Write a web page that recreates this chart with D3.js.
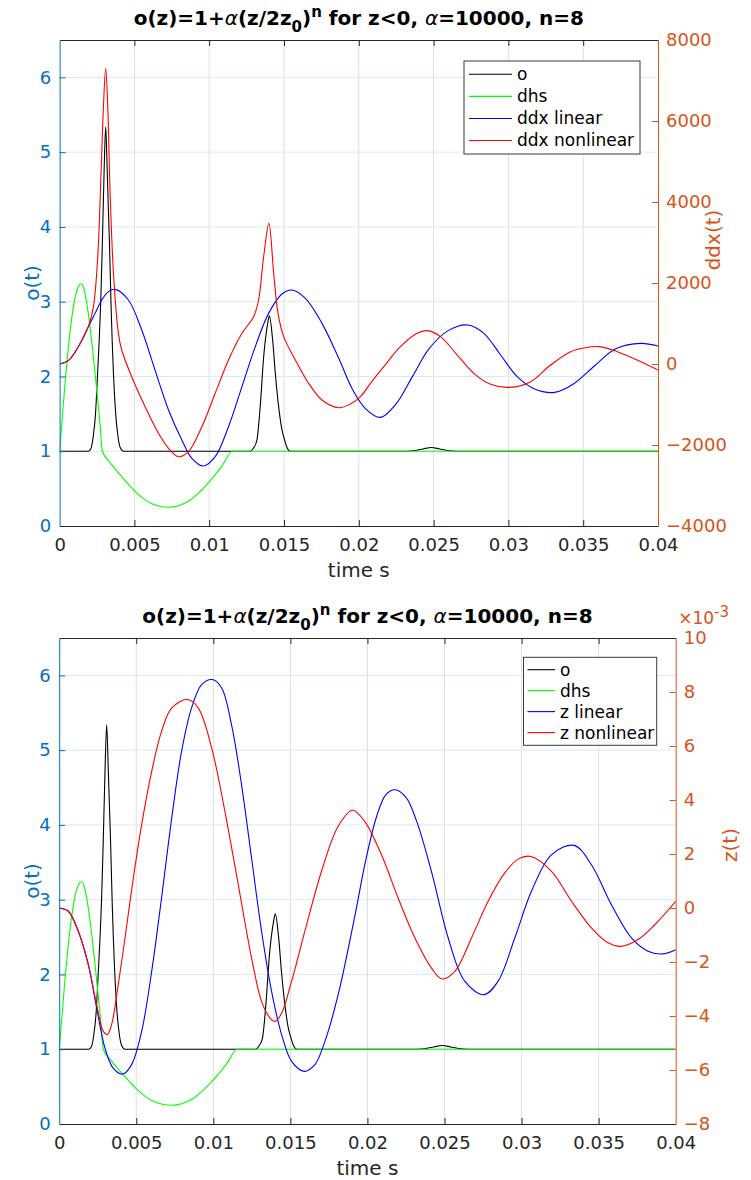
<!DOCTYPE html>
<html>
<head>
<meta charset="utf-8">
<script src="https://cdn.jsdelivr.net/npm/d3@7"></script>
<style>
  body { margin: 0; background: #fff; }
  svg { display: block; }
  text { font-family: "DejaVu Sans", sans-serif; }
</style>
</head>
<body>
<svg id="chart" width="751" height="1180"></svg>
<script>
// ---- shared time axis (seconds) ----
const timeTicks = [0, 0.005, 0.01, 0.015, 0.02, 0.025, 0.03, 0.035, 0.04];
const oTicks = [0, 1, 2, 3, 4, 5, 6];

// ---- series: [time in ms, value] ----
const oSeries = [
  [0, 1], [1.92, 1], [2.1, 1.04], [2.25, 1.2], [2.4, 1.5], [2.53, 2.0], [2.65, 2.5], [2.75, 3.0],
  [2.86, 3.8], [2.97, 4.7], [3.08, 5.34], [3.19, 4.7], [3.33, 3.8], [3.44, 2.95], [3.52, 2.45],
  [3.6, 2.04], [3.75, 1.5], [3.9, 1.2], [4.05, 1.05], [4.27, 1],
  [12.74, 1], [12.95, 1.04], [13.19, 1.15], [13.41, 1.6], [13.64, 2.26], [13.91, 2.71], [14.02, 2.81],
  [14.24, 2.49], [14.42, 2.04], [14.64, 1.6], [14.85, 1.3], [15.04, 1.15], [15.2, 1.05], [15.42, 1],
  [23.2, 1], [23.8, 1.01], [24.3, 1.03], [24.85, 1.05], [25.4, 1.03], [25.9, 1.01], [26.6, 1], [40, 1]
];
const dhsSeries = [
  [0, 1], [0.36, 1.9], [0.7, 2.6], [1.03, 3.05], [1.25, 3.2], [1.43, 3.24], [1.62, 3.18], [1.92, 2.84],
  [2.26, 2.26], [2.48, 1.82], [2.7, 1.37], [2.86, 1], [3.4, 0.84], [4.15, 0.66], [5.27, 0.42],
  [6.39, 0.28], [7.28, 0.25], [8.61, 0.33], [9.73, 0.53], [10.85, 0.8], [11.56, 1], [40, 1]
];
const ddxLinear = [
  [0, 0], [0.58, 82], [1.25, 428], [1.92, 922], [2.37, 1250], [2.82, 1580], [3.26, 1786], [3.71, 1843],
  [4.6, 1580], [5.49, 839], [6.38, -150], [7.28, -1136], [8.17, -1876], [8.84, -2329], [9.62, -2519],
  [10.4, -2289], [11.29, -1548], [12.19, -560], [13.08, 428], [13.97, 1250], [14.86, 1728], [15.53, 1827],
  [16.43, 1621], [17.54, 1003], [18.66, 140], [19.6, -640], [20.44, -1100], [21.45, -1317], [22.5, -980],
  [23.6, -300], [24.7, 380], [26.0, 830], [27.29, 963], [28.36, 758], [29.48, 222], [30.59, -314],
  [31.71, -610], [33.09, -700], [34.4, -480], [35.8, -30], [37.2, 380], [38.85, 510], [40, 444]
];
const ddxNonlinear = [
  [0, 0], [0.58, 82], [1.25, 428], [1.92, 922], [2.26, 1414], [2.55, 2649], [2.77, 4708], [2.93, 6353],
  [3.08, 7300], [3.22, 6353], [3.37, 4296], [3.6, 2239], [3.93, 758], [4.15, 346], [4.82, -314],
  [5.72, -1055], [6.61, -1711], [7.28, -2081], [7.95, -2289], [8.61, -2165], [9.51, -1548], [10.4, -724],
  [11.29, 99], [12.19, 758], [12.97, 1168], [13.3, 1580], [13.64, 2649], [13.99, 3473], [14.31, 2239],
  [14.6, 1250], [14.98, 676], [15.76, 99], [16.65, -478], [17.54, -890], [18.66, -1080], [19.44, -988],
  [20.11, -807], [20.78, -478], [21.67, -66], [22.78, 428], [23.9, 758], [24.57, 824], [25.46, 676],
  [26.58, 222], [27.69, -230], [28.81, -502], [30.1, -576], [31.49, -436], [32.82, -25], [34.16, 304],
  [35.05, 395], [36.06, 428], [37.28, 304], [38.85, 57], [40, -148]
];
// z values in units of 1e-3
const zLinear = [
  [0, 0], [0.59, -0.12], [1.24, -0.86], [1.89, -2.1], [2.43, -3.7], [2.97, -5.19], [3.5, -5.93],
  [4.12, -6.15], [4.7, -5.8], [5.35, -4.57], [6.0, -2.35], [6.64, 0.37], [7.3, 3.33], [7.94, 5.8],
  [8.59, 7.41], [9.24, 8.27], [9.93, 8.46], [10.54, 8.15], [11.18, 6.79], [11.83, 4.57], [12.48, 1.85],
  [13.13, -0.86], [13.78, -3.09], [14.43, -4.69], [15.08, -5.68], [15.9, -6.05], [16.59, -5.8],
  [17.24, -4.94], [18.1, -3.21], [19.18, -0.3], [19.9, 1.8], [20.6, 3.4], [21.2, 4.2], [21.78, 4.38],
  [22.5, 4.1], [23.2, 3.2], [24.15, 1.36], [25.24, -1.11], [26.31, -2.71], [27.57, -3.21], [28.48, -2.71],
  [29.56, -1.11], [30.64, 0.62], [31.94, 1.97], [33.41, 2.32], [34.53, 1.6], [35.83, 0.12],
  [37.13, -1.11], [38.2, -1.6], [39.18, -1.7], [40, -1.55]
];
const zNonlinear = [
  [0, 0], [0.59, -0.12], [1.24, -0.86], [1.89, -2.1], [2.43, -3.58], [2.86, -4.57], [3.12, -4.69],
  [3.4, -4.32], [3.83, -2.84], [4.27, -1.11], [4.81, 1.11], [5.35, 3.09], [6.0, 5.06], [6.64, 6.54],
  [7.3, 7.41], [8.31, 7.72], [9.02, 7.41], [9.89, 5.93], [10.75, 3.58], [11.62, 0.86], [12.48, -1.85],
  [13.13, -3.46], [13.67, -4.07], [14.0, -4.2], [14.43, -3.9], [15.08, -2.71], [15.94, -0.86],
  [17.02, 1.36], [18.1, 3.03], [19.03, 3.62], [19.83, 3.2], [20.91, 1.97], [21.99, 0.37], [23.08, -1.11],
  [24.15, -2.22], [24.84, -2.63], [25.67, -2.35], [26.75, -1.11], [27.83, 0.25], [28.91, 1.3],
  [29.8, 1.82], [30.6, 1.91], [31.94, 1.36], [33.24, 0.25], [34.53, -0.74], [35.5, -1.25], [36.44, -1.42],
  [37.56, -1.17], [38.64, -0.62], [40, 0.25]
];

const ddxTicks = [-4000, -2000, 0, 2000, 4000, 6000, 8000];
const zTicks = [-8, -6, -4, -2, 0, 2, 4, 6, 8, 10];

const colors = { o: "#000000", dhs: "#00ff00", lin: "#0000ff", nonlin: "#ff0000" };
const leftColor = "#0072bd", rightColor = "#d95319", axisColor = "#262626";

const panels = [
  {
    box: { left: 59.6, right: 658, top: 40, bottom: 526 },
    rightDomain: [-4000, 8000], rightTicks: ddxTicks, rightLabel: "ddx(t)",
    rightLabelX: 720, rightLabelY: 240,
    linear: ddxLinear, nonlinear: ddxNonlinear,
    names: ["o", "dhs", "ddx linear", "ddx nonlinear"],
    legend: { x0: 464, x1: 640, y0: 61, y1: 154, rows: [74.3, 96.4, 118.5, 140.5], lx0: 469, lx1: 512, tx: 517 },
    exponent: false
  },
  {
    box: { left: 59.2, right: 675.7, top: 638, bottom: 1124 },
    rightDomain: [-8, 10], rightTicks: zTicks, rightLabel: "z(t)",
    rightLabelX: 737, rightLabelY: 845,
    linear: zLinear, nonlinear: zNonlinear,
    names: ["o", "dhs", "z linear", "z nonlinear"],
    legend: { x0: 523.5, x1: 656.7, y0: 657.3, y1: 745.3, rows: [669.7, 690.6, 711.6, 732.6], lx0: 527.5, lx1: 555, tx: 560 },
    exponent: true
  }
];

const svg = d3.select("#chart");
const fmtTime = d => d === 0 ? "0" : String(+d.toFixed(3));

function styleAxis(a, color) {
  a.attr("font-size", 18).attr("font-family", "DejaVu Sans");
  a.selectAll("path,line").attr("stroke", color);
  a.selectAll("text").attr("fill", color);
}

panels.forEach((p, i) => {
  const b = p.box;
  const g = svg.append("g");
  const x = d3.scaleLinear().domain([0, 0.04]).range([b.left, b.right]);
  const yL = d3.scaleLinear().domain([0, 6.5]).range([b.bottom, b.top]);
  const yR = d3.scaleLinear().domain(p.rightDomain).range([b.bottom, b.top]);

  // grid
  g.append("g").selectAll("line").data(timeTicks.slice(1, -1)).join("line")
    .attr("x1", d => x(d)).attr("x2", d => x(d)).attr("y1", b.top).attr("y2", b.bottom)
    .attr("stroke", "#dfdfdf").attr("stroke-width", 1);
  g.append("g").selectAll("line").data(oTicks.slice(1)).join("line")
    .attr("x1", b.left).attr("x2", b.right).attr("y1", d => yL(d)).attr("y2", d => yL(d))
    .attr("stroke", "#d9eaf5").attr("stroke-width", 1);

  // curves
  const clipId = "clip" + i;
  svg.append("clipPath").attr("id", clipId).append("rect")
    .attr("x", b.left).attr("y", b.top).attr("width", b.right - b.left).attr("height", b.bottom - b.top);
  const lineL = d3.line().x(d => x(d[0] / 1000)).y(d => yL(d[1])).curve(d3.curveMonotoneX);
  const lineR = d3.line().x(d => x(d[0] / 1000)).y(d => yR(d[1])).curve(d3.curveCatmullRom.alpha(0.5));
  const curves = g.append("g").attr("clip-path", `url(#${clipId})`).attr("fill", "none").attr("stroke-width", 1.1);
  curves.append("path").attr("d", lineL(oSeries)).attr("stroke", colors.o);
  curves.append("path").attr("d", lineL(dhsSeries)).attr("stroke", colors.dhs);
  curves.append("path").attr("d", lineR(p.linear)).attr("stroke", colors.lin);
  curves.append("path").attr("d", lineR(p.nonlinear)).attr("stroke", colors.nonlin);

  // axes
  const xb = g.append("g").attr("transform", `translate(0,${b.bottom})`)
    .call(d3.axisBottom(x).tickValues(timeTicks).tickFormat(fmtTime).tickSize(-6).tickSizeOuter(0).tickPadding(12.5));
  const xt = g.append("g").attr("transform", `translate(0,${b.top})`)
    .call(d3.axisTop(x).tickValues(timeTicks).tickFormat("").tickSize(-6).tickSizeOuter(0));
  [xb, xt].forEach(a => {
    styleAxis(a, axisColor);
    a.selectAll(".tick").filter(d => d === 0 || d === 0.04).select("line").remove();
  });
  const al = g.append("g").attr("transform", `translate(${b.left},0)`)
    .call(d3.axisLeft(yL).tickValues(oTicks).tickFormat(d3.format("d")).tickSize(-6).tickSizeOuter(0).tickPadding(8.5));
  styleAxis(al, leftColor);
  al.selectAll(".tick").filter(d => d === 0).select("line").remove();
  const ar = g.append("g").attr("transform", `translate(${b.right},0)`)
    .call(d3.axisRight(yR).tickValues(p.rightTicks).tickFormat(d3.format("d")).tickSize(-6).tickSizeOuter(0).tickPadding(8));
  styleAxis(ar, rightColor);
  ar.selectAll(".tick").filter(d => d === p.rightDomain[0] || d === p.rightDomain[1]).select("line").remove();

  // exponent marker for the z axis
  if (p.exponent) {
    const ex = g.append("text").attr("x", b.right + 2.5).attr("y", b.top - 14)
      .attr("fill", rightColor).attr("font-size", 17);
    ex.append("tspan").text("\u00d710");
    ex.append("tspan").attr("dy", -7).attr("font-size", 15).text("-3");
  }

  // axis labels
  g.append("text").attr("x", (b.left + b.right) / 2).attr("y", b.bottom + 51)
    .attr("text-anchor", "middle").attr("font-size", 20).attr("fill", axisColor).text("time s");
  g.append("text").attr("transform", `translate(39,${(b.top + b.bottom) / 2}) rotate(-90)`)
    .attr("text-anchor", "middle").attr("font-size", 20).attr("fill", leftColor).text("o(t)");
  g.append("text").attr("transform", `translate(${p.rightLabelX},${p.rightLabelY}) rotate(-90)`)
    .attr("text-anchor", "middle").attr("font-size", 20).attr("fill", rightColor).text(p.rightLabel);

  // title
  const t = g.append("text").attr("x", (b.left + b.right) / 2).attr("y", b.top - 15)
    .attr("text-anchor", "middle").attr("font-size", 20).attr("font-weight", "bold").attr("fill", "#000");
  t.append("tspan").text("o(z)=1+");
  t.append("tspan").attr("font-style", "italic").attr("font-weight", "normal").text("\u03b1");
  t.append("tspan").text("(z/2z");
  t.append("tspan").attr("dy", 7).attr("font-size", 15).text("0");
  t.append("tspan").attr("dy", -7).text(")");
  t.append("tspan").attr("dy", -8).attr("font-size", 15).text("n");
  t.append("tspan").attr("dy", 8).text(" for z<0, ");
  t.append("tspan").attr("font-style", "italic").attr("font-weight", "normal").text("\u03b1");
  t.append("tspan").text("=10000, n=8");

  // legend
  const L = p.legend;
  const lg = g.append("g");
  lg.append("rect").attr("x", L.x0).attr("y", L.y0).attr("width", L.x1 - L.x0).attr("height", L.y1 - L.y0)
    .attr("fill", "#fff").attr("stroke", "#3a3a3a").attr("stroke-width", 1);
  const lc = [colors.o, colors.dhs, colors.lin, colors.nonlin];
  p.names.forEach((name, k) => {
    lg.append("line").attr("x1", L.lx0).attr("x2", L.lx1).attr("y1", L.rows[k]).attr("y2", L.rows[k])
      .attr("stroke", lc[k]).attr("stroke-width", 1.1);
    lg.append("text").attr("x", L.tx).attr("y", L.rows[k]).attr("dy", "0.35em")
      .attr("font-size", 17).attr("fill", "#000").text(name);
  });
});
</script>
</body>
</html>
